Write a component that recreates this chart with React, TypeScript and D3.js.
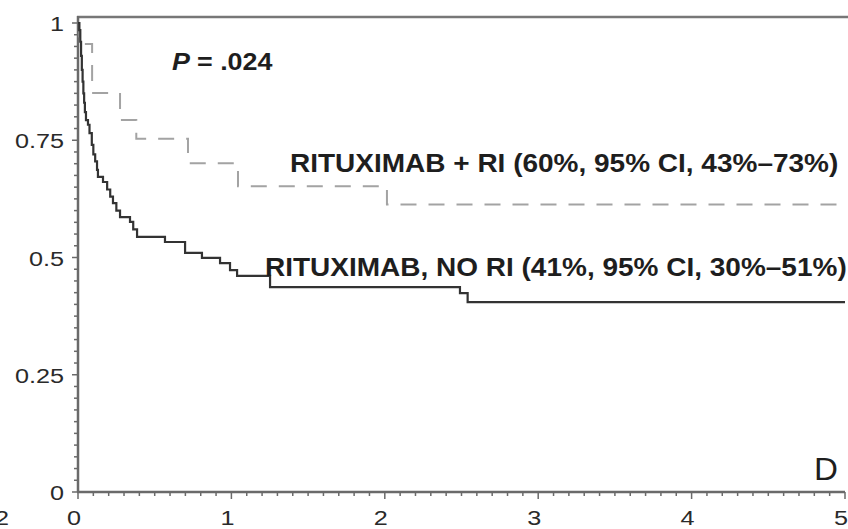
import React from "react";
import * as d3 from "d3";

// Kaplan-Meier step data (years, survival proportion)
const noRiTimes = [0, 0.008, 0.015, 0.02, 0.025, 0.03, 0.035, 0.04, 0.045, 0.052, 0.065, 0.075, 0.09, 0.1, 0.112, 0.124, 0.13, 0.163, 0.19, 0.21, 0.228, 0.25, 0.274, 0.339, 0.36, 0.385, 0.567, 0.698, 0.808, 0.926, 0.991, 1.037, 1.252, 2.49, 2.54, 5];
const noRiSurv = [1, 0.985, 0.96, 0.93, 0.9, 0.875, 0.85, 0.83, 0.81, 0.793, 0.783, 0.765, 0.74, 0.72, 0.705, 0.687, 0.672, 0.661, 0.645, 0.63, 0.616, 0.6, 0.586, 0.576, 0.56, 0.544, 0.533, 0.51, 0.499, 0.488, 0.473, 0.461, 0.437, 0.424, 0.405, 0.405];

const riTimes = [0, 0.01, 0.092, 0.274, 0.38, 0.717, 1.043, 2.014, 5];
const riSurv = [1, 0.955, 0.851, 0.793, 0.753, 0.701, 0.652, 0.613, 0.613];

const xTicks = [0, 1, 2, 3, 4, 5];
const yTicks = [0, 0.25, 0.5, 0.75, 1];
const yTickLabels = ["0", "0.25", "0.5", "0.75", "1"];

const riLabel = "RITUXIMAB + RI (60%, 95% CI, 43%\u201373%)";
const noRiLabel = "RITUXIMAB, NO RI (41%, 95% CI, 30%\u201351%)";
const pLabel = "= .024";
const panelLabel = "D";

const FONT = "'Liberation Sans', Arial, Helvetica, sans-serif";

function SText({ x, y, size, weight = "normal", anchor = "start", stretch = 1.12, italic = false, fill = "#1e1e1e", children }: any) {
  return (
    <text
      transform={`translate(${x},${y}) scale(${stretch},1)`}
      fontSize={size}
      fontWeight={weight}
      fontStyle={italic ? "italic" : "normal"}
      textAnchor={anchor}
      fontFamily={FONT}
      fill={fill}
    >
      {children}
    </text>
  );
}

export default function App() {
  const W = 848, H = 529;
  const x = d3.scaleLinear().domain([0, 5]).range([78, 845]);
  const y = d3.scaleLinear().domain([0, 1]).range([492, 23]);

  const line = d3
    .line<[number, number]>()
    .x((d) => x(d[0]))
    .y((d) => y(d[1]))
    .curve(d3.curveStepAfter);

  const noRi: [number, number][] = noRiTimes.map((t, i) => [t, noRiSurv[i]]);
  const ri: [number, number][] = riTimes.map((t, i) => [t, riSurv[i]]);

  const yMinor = d3.range(0, 41).map((i) => i * 0.025);
  const xMinor = d3.range(0, 51).map((i) => i * 0.1);
  const axisColor = "#6a6a6a";

  return (
    <svg width={W} height={H} style={{ position: "absolute", left: 0, top: 0, background: "#fff" }}>
      <rect x={0} y={0} width={W} height={H} fill="#fff" />
      {/* top frame */}
      <line x1={77} x2={848} y1={17} y2={17} stroke="#777" strokeWidth={2.5} />
      {/* left axis */}
      <line x1={x(0)} x2={x(0)} y1={16} y2={y(0)} stroke={axisColor} strokeWidth={2.5} />
      {yMinor.map((v, i) => (
        <line key={"ym" + i} x1={x(0) - (i % 10 === 0 ? 6 : 4)} x2={x(0)} y1={y(v)} y2={y(v)} stroke={axisColor} strokeWidth={1.5} />
      ))}
      {/* bottom axis */}
      <line x1={x(0) - 1} x2={x(5)} y1={y(0)} y2={y(0)} stroke={axisColor} strokeWidth={2.5} />
      {xMinor.map((v, i) => (
        <line key={"xm" + i} x1={x(v)} x2={x(v)} y1={y(0)} y2={y(0) + (i % 10 === 0 ? 7 : 4)} stroke={axisColor} strokeWidth={1.5} />
      ))}
      {/* tick labels */}
      {yTicks.map((v, i) => (
        <SText key={"yl" + i} x={64} y={y(v) + 8} size={21} anchor="end" stretch={1.2} fill="#2a2a2a">
          {yTickLabels[i]}
        </SText>
      ))}
      {xTicks.map((v) => (
        <SText key={"xl" + v} x={x(v) - 4} y={525} size={21} anchor="middle" stretch={1.2} fill="#2a2a2a">
          {String(v)}
        </SText>
      ))}
      <SText x={9} y={525} size={21} anchor="end" stretch={1.2} fill="#2a2a2a">2</SText>

      {/* curves */}
      <path d={line(ri) || ""} fill="none" stroke="#a3a3a3" strokeWidth={2} strokeDasharray="16,12" />
      <path d={line(noRi) || ""} fill="none" stroke="#333" strokeWidth={2.2} />

      {/* annotations */}
      <SText x={172} y={70} size={24} weight="bold" italic stretch={1.12}>P</SText>
      <SText x={197} y={70} size={24} weight="bold" stretch={1.12}>{pLabel}</SText>
      <SText x={290} y={172} size={25} weight="bold" stretch={1.12}>{riLabel}</SText>
      <SText x={265} y={276} size={25} weight="bold" stretch={1.12}>{noRiLabel}</SText>
      <SText x={838} y={480} size={31} anchor="end" stretch={1.07}>{panelLabel}</SText>
    </svg>
  );
}
